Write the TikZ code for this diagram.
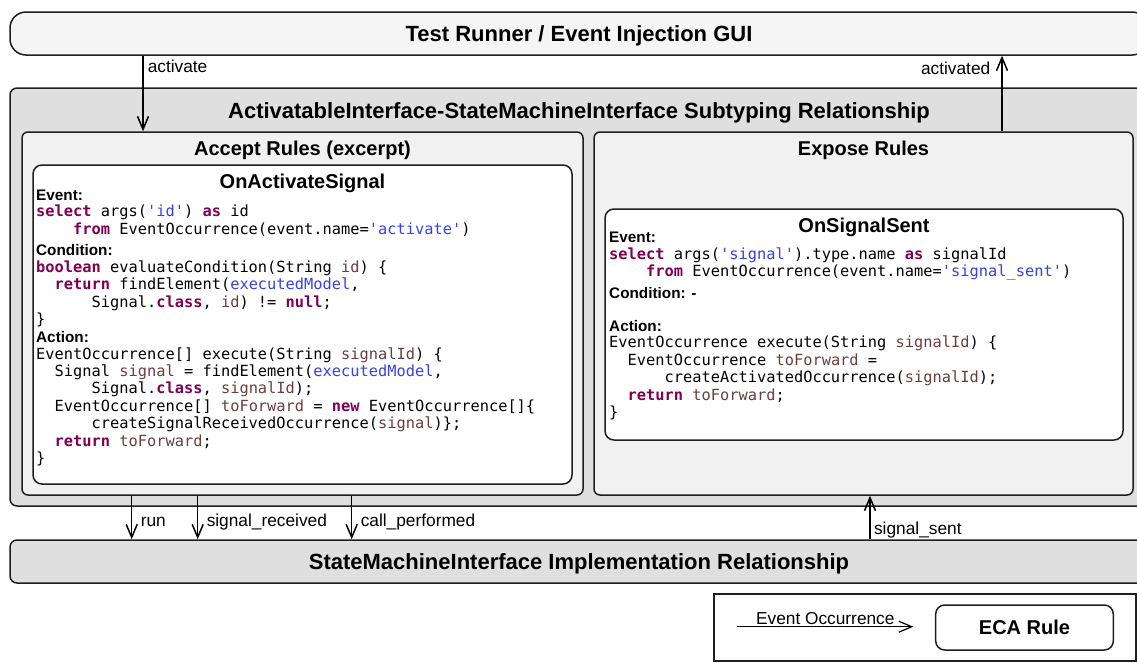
\documentclass[tikz,border=0pt]{standalone}
\usepackage{fontspec}
\setmainfont{Liberation Sans}
\newfontfamily\codefont{DejaVu Sans Mono}[Ligatures=TeXOff]
\usetikzlibrary{arrows.meta,calc,positioning}

\definecolor{kwcol}{RGB}{127,0,85}
\definecolor{strcol}{RGB}{55,65,235}
\definecolor{varcol}{RGB}{106,62,62}
\definecolor{palegray}{RGB}{245,245,245}
\definecolor{midgray}{RGB}{223,223,223}
\definecolor{lightgray}{RGB}{241,241,241}

\newcommand\kwd[1]{\textcolor{kwcol}{\bfseries #1}}
\newcommand\strg[1]{\textcolor{strcol}{#1}}
\newcommand\fld[1]{\textcolor{strcol}{#1}}
\newcommand\lvar[1]{\textcolor{varcol}{#1}}
\newcommand\rulelab[1]{{\normalfont\bfseries\fontsize{15.3}{17.4}\selectfont #1}}
\newcommand\codeind[1]{\hspace*{#1\fontcharwd\font`\x}}

\begin{document}
\begin{tikzpicture}[x=1pt, y=-1pt,
  frame/.style={draw=black!88, line width=1.5pt, inner sep=0pt},
  bigbox/.style={frame, fill=midgray, rounded corners=7pt},
  rulegroup/.style={frame, fill=lightgray, rounded corners=6pt},
  ecabox/.style={frame, fill=white, rounded corners=9pt},
  head/.style={font=\bfseries\fontsize{22}{26}\selectfont},
  subhead/.style={font=\bfseries\fontsize{20}{24}\selectfont, anchor=base},
  code/.style={font=\codefont\fontsize{15.35}{17.4}\selectfont, align=left, anchor=base west, inner sep=0pt},
  evt/.style={-{Straight Barb[length=13pt,width=11pt]}, line width=1.5pt},
  lbl/.style={font=\fontsize{17.3}{20}\selectfont, inner sep=0pt},
  fwd/.style={lbl, anchor=base west},
  bkw/.style={lbl, anchor=base east}]

  \useasboundingbox (0,0) rectangle (1137,662);

  \node[bigbox, head, text depth=0pt, fill=palegray, rounded corners=16pt, minimum width=1138pt, minimum height=43pt] (gui) at (579,33.5) {Test Runner / Event Injection GUI};

  \node[bigbox, minimum width=1138pt, minimum height=418pt] (subtyp) at (579,297) {};
  \node[head, anchor=base] at ($(subtyp.north)+(0,31)$) {ActivatableInterface-StateMachineInterface Subtyping Relationship};

  \node[rulegroup, minimum width=561pt, minimum height=363pt] (accept) at (302.5,313.5) {};
  \node[rulegroup, minimum width=539pt, minimum height=363pt, right=9.5pt of accept] (expose) {};
  \node[subhead] at ($(accept.north)+(0,24.5)$) {Accept Rules (excerpt)};
  \node[subhead] at ($(expose.north)+(0,24.5)$) {Expose Rules};

  \node[ecabox, minimum width=539pt, minimum height=319pt] (onact) at (302.5,324.5) {};
  \node[ecabox, minimum width=518pt, minimum height=231pt] (onsent) at (864,324.5) {};
  \node[subhead] at ($(onact.north)+(0,24.3)$) {OnActivateSignal};
  \node[subhead] at ($(onsent.north)+(0,24.2)$) {OnSignalSent};

  % rule bodies (base = last line)
  \node[code] (actcode) at (36,463.5) {\rulelab{Event:}\\[-1pt]
    \kwd{select} args(\strg{'id'}) \kwd{as} id\\
    \codeind{4}\kwd{from} EventOccurrence(event.name=\strg{'activate'})\\[4.3pt]
    \rulelab{Condition:}\\[-1pt]
    \kwd{boolean} evaluateCondition(String \lvar{id}) \{\\
    \codeind{2}\kwd{return} findElement(\fld{executedModel},\\
    \codeind{6}Signal.\kwd{class}, \lvar{id}) != \kwd{null};\\
    \}\\[0.8pt]
    \rulelab{Action:}\\[-1pt]
    EventOccurrence[] execute(String \lvar{signalId}) \{\\
    \codeind{2}Signal \lvar{signal} = findElement(\fld{executedModel},\\
    \codeind{6}Signal.\kwd{class}, \lvar{signalId});\\
    \codeind{2}EventOccurrence[] \lvar{toForward} = \kwd{new} EventOccurrence[]\{\\
    \codeind{6}createSignalReceivedOccurrence(\lvar{signal})\};\\
    \codeind{2}\kwd{return} \lvar{toForward};\\
    \}};

  \node[code] (sentcode) at (609,417.5) {\rulelab{Event:}\\[-1pt]
    \kwd{select} args(\strg{'signal'}).type.name \kwd{as} signalId\\
    \codeind{4}\kwd{from} EventOccurrence(event.name=\strg{'signal\_sent'})\\[4.2pt]
    \rulelab{Condition: -}\\[16pt]
    \rulelab{Action:}\\[-1pt]
    EventOccurrence execute(String \lvar{signalId}) \{\\
    \codeind{2}EventOccurrence \lvar{toForward} =\\
    \codeind{6}createActivatedOccurrence(\lvar{signalId});\\
    \codeind{2}\kwd{return} \lvar{toForward};\\
    \}};

  \node[bigbox, head, text depth=0pt, minimum width=1138pt, minimum height=43pt] (impl) at (579,561.5) {StateMachineInterface Implementation Relationship};

  % event occurrences
  \draw[evt] (gui.south -| 143,0) node[fwd, xshift=4pt, yshift=-16.7pt]{activate} -- (accept.north -| 143,0);
  \draw[evt] (expose.north -| 1002,0) -- (gui.south -| 1002,0) node[bkw, xshift=-11pt, yshift=-18.3pt]{activated};

  \draw[evt] (accept.south -| 131.7,0) node[fwd, xshift=8.3pt, yshift=-31pt]{run} -- (impl.north -| 131.7,0);
  \draw[evt] (accept.south -| 197.7,0) node[fwd, xshift=8.3pt, yshift=-31pt]{signal\_received} -- (impl.north -| 197.7,0);
  \draw[evt] (accept.south -| 351.7,0) node[fwd, xshift=8.3pt, yshift=-31pt]{call\_performed} -- (impl.north -| 351.7,0);

  \draw[evt] (impl.north -| 870,0) node[fwd, xshift=3.3pt, yshift=5pt]{signal\_sent} -- (expose.south -| 870,0);

  % legend
  \node[frame, fill=white, minimum width=422pt, minimum height=67pt] (legend) at (925,627.5) {};
  \node[ecabox, subhead, anchor=center, minimum width=177.6pt, minimum height=45pt] (eca) at (1024.5,627.5) {ECA Rule};
  \coordinate (evfrom) at (737.3,626.7);
  \coordinate (evto) at (913.3,626.7);
  \draw[evt, line width=1.2pt] (evfrom) -- (evto) node[midway, lbl, anchor=base, yshift=2.5pt]{Event Occurrence};

\end{tikzpicture}
\end{document}
